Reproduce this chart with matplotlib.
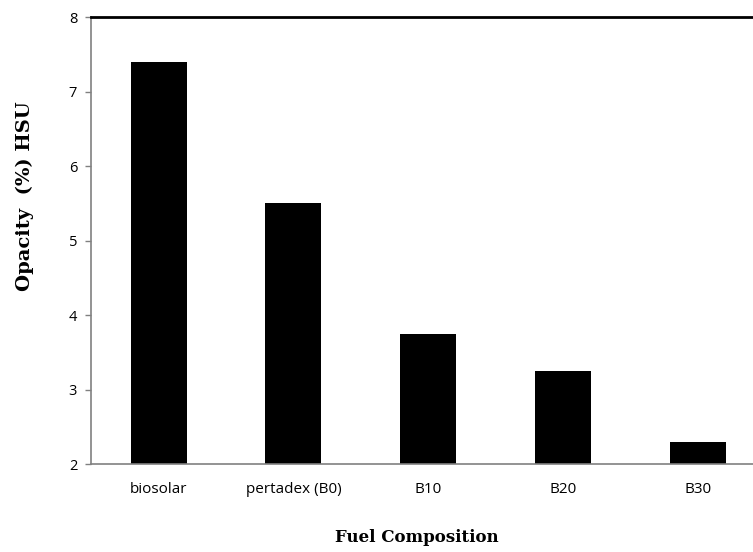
import matplotlib.pyplot as plt

# --------- data ---------
fuels = ["biosolar", "pertadex (B0)", "B10", "B20", "B30"]
opacity = [7.4, 5.5, 3.75, 3.25, 2.3]
y_ticks = [2, 3, 4, 5, 6, 7, 8]

fig = plt.figure(figsize=(7.53, 5.52), dpi=100)
# axes runs a little past the right edge, as in the source image
ax = fig.add_axes([0.1209, 0.1594, 0.896, 0.8098])

x = list(range(len(fuels)))
ax.bar(x, opacity, width=0.415, color="black", zorder=2)

ax.set_xlim(-0.5, len(fuels) - 0.5)
ax.set_ylim(2, 8)
ax.set_yticks(y_ticks)
ax.set_xticks(x)
ax.set_xticklabels(fuels, family="Open Sans", fontsize=11)
ax.set_yticklabels([str(t) for t in y_ticks], family="Open Sans", fontsize=10.5)

ax.tick_params(axis="x", length=0, pad=13)
ax.tick_params(axis="y", length=4, width=1, color="#808080", pad=6)

for side in ["left", "bottom"]:
    ax.spines[side].set_color("#808080")
    ax.spines[side].set_linewidth(1.2)
ax.spines["top"].set_color("black")
ax.spines["top"].set_linewidth(2)
ax.spines["right"].set_visible(False)

ax.set_xlabel("Fuel Composition", family="DejaVu Serif", fontweight="bold",
              fontsize=12)
ax.set_ylabel("Opacity  (%) HSU", family="DejaVu Serif", fontweight="bold",
              fontsize=14)
ax.xaxis.set_label_coords(0.483, -0.145)
ax.yaxis.set_label_coords(-0.098, 0.60)
ax.yaxis.label.set_va("center")

fig.savefig("out.png", dpi=100)
